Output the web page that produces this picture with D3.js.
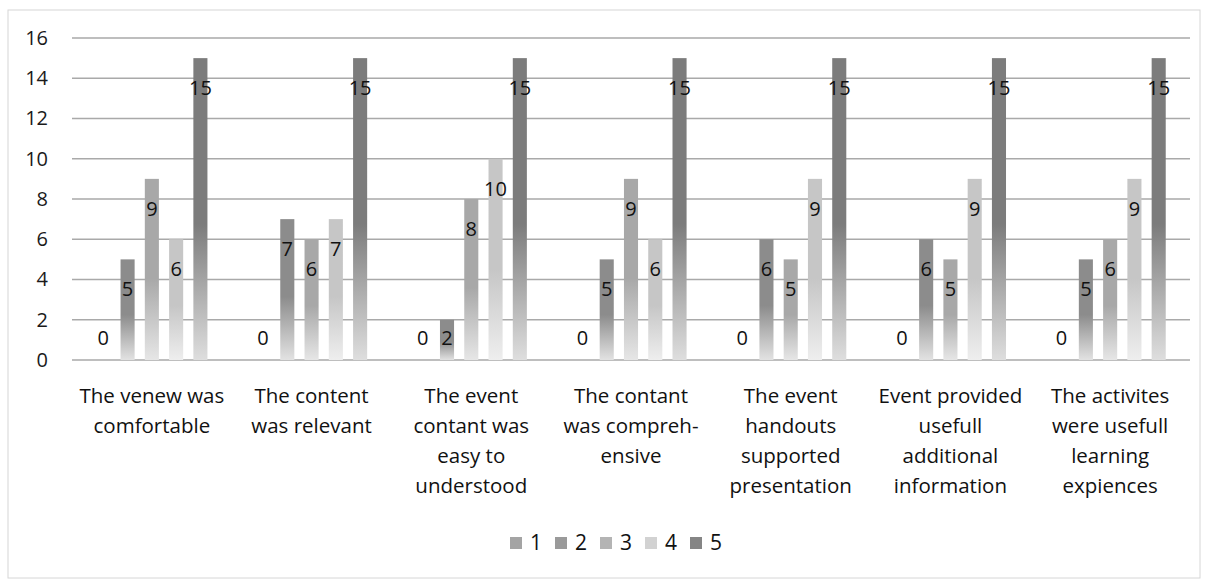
<!DOCTYPE html>
<html>
<head>
<meta charset="utf-8">
<script src="https://cdn.jsdelivr.net/npm/d3@7"></script>
<style>
	body { margin: 0; background: #fff; }
	svg { font-family: "Open Sans", "Noto Sans", sans-serif; }
</style>
</head>
<body>
<svg id="chart" width="1209" height="586"></svg>
<script>
// ratings per statement, one array per rating level
var categories = [
	["The venew was", "comfortable"],
	["The content", "was relevant"],
	["The event", "contant was", "easy to", "understood"],
	["The contant", "was compreh-", "ensive"],
	["The event", "handouts", "supported", "presentation"],
	["Event provided", "usefull", "additional", "information"],
	["The activites", "were usefull", "learning", "expiences"]
];
var seriesNames = ["1", "2", "3", "4", "5"];
var rating1 = [0, 0, 0, 0, 0, 0, 0];
var rating2 = [5, 7, 2, 5, 6, 6, 5];
var rating3 = [9, 6, 8, 9, 5, 5, 6];
var rating4 = [6, 7, 10, 6, 9, 9, 9];
var rating5 = [15, 15, 15, 15, 15, 15, 15];
var yTicks = [0, 2, 4, 6, 8, 10, 12, 14, 16];

var seriesValues = [rating1, rating2, rating3, rating4, rating5];
var topColors = ["#a2a2a2", "#8c8c8c", "#a8a8a8", "#c6c6c6", "#7c7c7c"];
var bottomColors = ["#e4e4e4", "#e2e2e2", "#e6e6e6", "#eeeeee", "#dedede"];
var legendColors = ["#a4a4a4", "#9a9a9a", "#b4b4b4", "#d2d2d2", "#858585"];

var svg = d3.select("#chart");

function translate(x, y) {
	return "translate(" + x + "," + y + ")";
}

// faint scan frame
svg.append("rect")
	.attr("x", 8).attr("y", 10)
	.attr("width", 1192).attr("height", 568)
	.attr("fill", "none")
	.attr("stroke", "#d6d6d6")
	.attr("stroke-width", 1);

var plot = {left: 72, right: 1190, top: 38, bottom: 360};

var x0 = d3.scaleBand()
	.domain(d3.range(categories.length))
	.range([plot.left, plot.right]);

var x1 = d3.scaleBand()
	.domain(seriesNames)
	.range([0, x0.bandwidth()])
	.paddingInner(0.42)
	.paddingOuter(1.0);

var y = d3.scaleLinear()
	.domain([0, 16])
	.range([plot.bottom, plot.top]);

var defs = svg.append("defs");
seriesNames.forEach(function(s, i) {
	var grad = defs.append("linearGradient")
		.attr("id", "grad" + i)
		.attr("x1", 0).attr("y1", 0).attr("x2", 0).attr("y2", 1);
	grad.append("stop").attr("offset", "0%").attr("stop-color", topColors[i]);
	grad.append("stop").attr("offset", "55%").attr("stop-color", topColors[i]);
	grad.append("stop").attr("offset", "100%").attr("stop-color", bottomColors[i]);
});

// gridlines
svg.append("g")
	.selectAll("line")
	.data(yTicks)
	.enter().append("line")
		.attr("x1", plot.left).attr("x2", plot.right)
		.attr("y1", function(d) { return y(d); })
		.attr("y2", function(d) { return y(d); })
		.attr("stroke", "#a9a9a9")
		.attr("stroke-width", 1.5);

// y axis labels
var yAxis = svg.append("g")
	.attr("transform", translate(48, 0))
	.call(d3.axisLeft(y).tickValues(yTicks).tickSize(0).tickPadding(0));
yAxis.select(".domain").remove();
yAxis.selectAll("text")
	.attr("font-size", 20)
	.attr("font-family", "'Open Sans', 'Noto Sans', sans-serif")
	.attr("fill", "#1a1a1a");

// bars
var rows = categories.map(function(c, ci) {
	return seriesNames.map(function(s, si) {
		return { cat: ci, key: s, idx: si, value: seriesValues[si][ci] };
	});
});

var groups = svg.append("g").selectAll("g")
	.data(rows)
	.enter().append("g")
		.attr("transform", function(d, i) { return translate(x0(i), 0); });

groups.selectAll("rect")
	.data(function(d) { return d; })
	.enter().append("rect")
		.attr("x", function(d) { return x1(d.key); })
		.attr("width", x1.bandwidth())
		.attr("y", function(d) { return y(d.value); })
		.attr("height", function(d) { return y(0) - y(d.value); })
		.attr("fill", function(d) { return "url(#grad" + d.idx + ")"; });

groups.selectAll("text")
	.data(function(d) { return d; })
	.enter().append("text")
		.attr("x", function(d) { return x1(d.key) + x1.bandwidth() / 2; })
		.attr("y", function(d) { return Math.min(y(d.value) + 30, y(0) - 22); })
		.attr("dy", "0.35em")
		.attr("text-anchor", "middle")
		.attr("font-size", 20)
		.attr("fill", "#111")
		.text(function(d) { return d.value; });

// category labels
var xLabels = svg.append("g").selectAll("text")
	.data(categories)
	.enter().append("text")
		.attr("x", function(d, i) { return x0(i) + x0.bandwidth() / 2; })
		.attr("y", plot.bottom + 36)
		.attr("text-anchor", "middle")
		.attr("font-size", 20.5)
		.attr("fill", "#111");

xLabels.selectAll("tspan")
	.data(function(d) { return d; })
	.enter().append("tspan")
		.attr("x", function() { return d3.select(this.parentNode).attr("x"); })
		.attr("dy", function(d, i) { return i === 0 ? "0.35em" : 30; })
		.text(function(d) { return d; });

// legend
var legend = svg.append("g")
	.attr("transform", translate(510, 543))
	.selectAll("g")
	.data(seriesNames)
	.enter().append("g")
		.attr("transform", function(d, i) { return translate(i * 45, 0); });

legend.append("rect")
	.attr("x", 0).attr("y", -6)
	.attr("width", 12).attr("height", 12)
	.attr("fill", function(d, i) { return legendColors[i]; });

legend.append("text")
	.attr("x", 20)
	.attr("dy", "0.35em")
	.attr("font-size", 21)
	.attr("fill", "#111")
	.text(function(d) { return d; });
</script>
</body>
</html>
